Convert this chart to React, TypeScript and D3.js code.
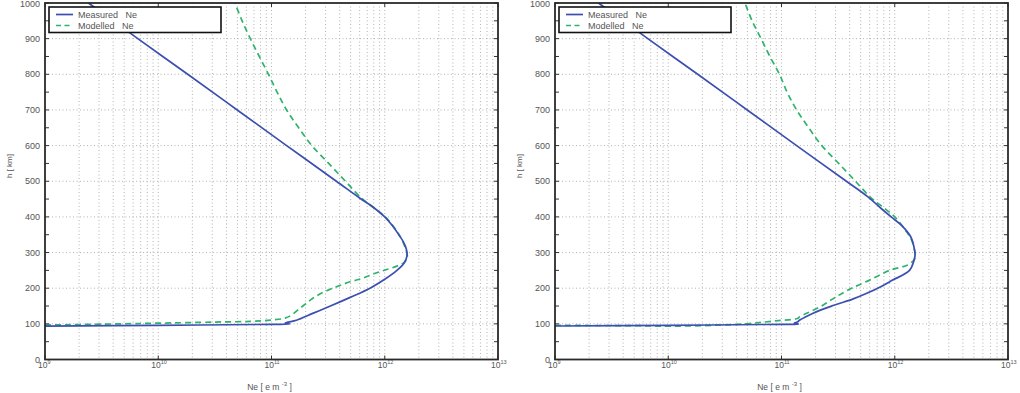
import React from "react";
import * as d3 from "d3";

// axis ticks
const heightTicks = [0, 100, 200, 300, 400, 500, 600, 700, 800, 900, 1000];
const decadeTicks = [1e9, 1e10, 1e11, 1e12, 1e13];
const decadeExponents = ["9", "10", "11", "12", "13"];
const seriesNames = ["Measured   Ne", "Modelled   Ne"];

// left profile: measured
const leftMeasuredH = [
  93.8, 96, 98.6, 99.6, 102.5, 105, 110, 130, 150, 175, 200, 225, 250, 270, 290,
  310, 330, 350, 375, 400, 430, 453, 500, 600, 700, 800, 900, 1000,
];
const leftMeasuredNe = [
  1e9, 1e10, 1e11, 1.45e11, 1.32e11, 1.41e11, 1.66e11, 2.34e11, 3.31e11, 5.01e11,
  7.41e11, 1.0e12, 1.28e12, 1.48e12, 1.57e12, 1.55e12, 1.46e12, 1.33e12, 1.17e12,
  1.0e12, 7.7e11, 6.0e11, 3.74e11, 1.36e11, 4.98e10, 1.82e10, 6.6e9, 2.42e9,
];

// left profile: modelled
const leftModelledH = [
  96.6, 101, 105, 107, 110.6, 116, 125, 141, 156, 171, 185, 197, 206, 218, 227, 240,
  251, 262, 272, 285, 305, 335, 360, 400, 427, 453, 500, 550, 600, 650, 700, 750,
  800, 850, 900, 950, 1000,
];
const leftModelledNe = [
  1e9, 6.9e9, 3.2e10, 6.5e10, 9.8e10, 1.32e11, 1.51e11, 1.74e11, 2.0e11, 2.3e11,
  2.72e11, 3.3e11, 3.9e11, 4.94e11, 6.27e11, 7.94e11, 1.01e12, 1.28e12, 1.48e12,
  1.58e12, 1.55e12, 1.42e12, 1.28e12, 1.01e12, 7.9e11, 6.2e11, 4.5e11, 3.2e11,
  2.27e11, 1.74e11, 1.36e11, 1.12e11, 9.4e10, 7.8e10, 6.5e10, 5.5e10, 4.76e10,
];

// right profile: measured
const rightMeasuredH = [
  94, 96, 98.6, 99.5, 102.5, 105, 110.6, 130, 152, 170, 185, 205, 222, 250, 278,
  292, 315, 345, 375, 400, 425, 456, 500, 600, 700, 800, 900, 1000,
];
const rightMeasuredNe = [
  1e9, 1e10, 1e11, 1.41e11, 1.3e11, 1.38e11, 1.45e11, 1.9e11, 2.9e11, 4.3e11,
  5.6e11, 7.6e11, 9.5e11, 1.35e12, 1.48e12, 1.51e12, 1.48e12, 1.38e12, 1.16e12,
  9.3e11, 7.5e11, 5.8e11, 3.74e11, 1.36e11, 4.98e10, 1.82e10, 6.6e9, 2.42e9,
];

// right profile: modelled
const rightModelledH = [
  95.5, 95, 93.5, 96, 101, 108.7, 115, 120, 148, 175, 199, 222.7, 250.7, 265, 280,
  290, 305, 335, 360, 400, 427, 453, 500, 550, 600, 650, 700, 750, 800, 850, 900,
  950, 1000,
];
const rightModelledNe = [
  1e9, 5e9, 1.05e10, 2.5e10, 5.2e10, 9e10, 1.38e11, 1.45e11, 2.2e11, 3.0e11, 4.1e11,
  6.0e11, 9.1e11, 1.3e12, 1.48e12, 1.52e12, 1.5e12, 1.41e12, 1.26e12, 1.0e12,
  7.9e11, 6.2e11, 4.5e11, 3.2e11, 2.27e11, 1.74e11, 1.36e11, 1.12e11, 9.6e10,
  7.9e10, 6.6e10, 5.5e10, 4.76e10,
];

const blue = "#3c4fb0";
const green = "#2fb36c";
const textColor = "#555";
const font = "'Liberation Sans', Arial, sans-serif";

const plotW = 453;
const plotH = 356.5;
const plotTop = 3;

const zip = (ne: number[], h: number[]) => ne.map((v, i) => [v, h[i]] as [number, number]);

function Panel({ left, measured, modelled }: { left: number; measured: [number, number][]; modelled: [number, number][] }) {
  const x = d3.scaleLog().domain([1e9, 1e13]).range([0, plotW]);
  const y = d3.scaleLinear().domain([0, 1000]).range([plotH, 0]);
  const line = d3
    .line<[number, number]>()
    .x((d) => x(d[0]))
    .y((d) => y(d[1]))
    .curve(d3.curveCatmullRom.alpha(0.5));

  const minorX = x.ticks().filter((t) => t > 1e9 && t < 1e13);
  const hGrid = heightTicks.filter((t) => t > 0 && t < 1000);
  const hMarks = d3.range(0, 1001, 50);

  return (
    <g transform={`translate(${left},${plotTop})`} fontFamily={font}>
      {/* dotted grid */}
      <g stroke="#a0a0a0" strokeWidth={0.8} strokeDasharray="1 2.5">
        {minorX.map((t) => (
          <line key={"v" + t} x1={x(t)} x2={x(t)} y1={0} y2={plotH} />
        ))}
        {hGrid.map((t) => (
          <line key={"h" + t} x1={0} x2={plotW} y1={y(t)} y2={y(t)} />
        ))}
      </g>

      {/* profiles */}
      <path d={line(modelled) ?? ""} fill="none" stroke={green} strokeWidth={1.7} strokeDasharray="6 4" />
      <path d={line(measured) ?? ""} fill="none" stroke={blue} strokeWidth={1.7} />

      {/* frame and inward ticks */}
      <g stroke="#333" strokeWidth={1}>
        {decadeTicks.map((t) => (
          <g key={"xt" + t}>
            <line x1={x(t)} x2={x(t)} y1={plotH} y2={plotH - 4} />
            <line x1={x(t)} x2={x(t)} y1={0} y2={4} />
          </g>
        ))}
        {hMarks.map((t) => (
          <g key={"yt" + t}>
            <line x1={0} x2={4} y1={y(t)} y2={y(t)} />
            <line x1={plotW} x2={plotW - 4} y1={y(t)} y2={y(t)} />
          </g>
        ))}
      </g>
      <rect x={0} y={0} width={plotW} height={plotH} fill="none" stroke="#2a2a2a" strokeWidth={1.8} />

      {/* tick labels */}
      {heightTicks.map((t) => (
        <text key={"yl" + t} x={-5} y={Math.max(y(t) + 3, 4)} textAnchor="end" fontSize={9} fill={textColor}>
          {t}
        </text>
      ))}
      {decadeTicks.map((t, i) => (
        <text key={"xl" + t} x={x(t) - 7} y={plotH + 8} fontSize={8.5} fill={textColor}>
          10
          <tspan dy={-4} fontSize={5.5}>
            {decadeExponents[i]}
          </tspan>
        </text>
      ))}

      {/* axis titles */}
      <text
        transform={`translate(${-33},${163}) rotate(-90)`}
        textAnchor="middle"
        fontSize={8}
        fill={textColor}
        style={{ whiteSpace: "pre" }}
      >
        h [ km]
      </text>
      <text x={plotW / 2 - 2} y={plotH + 30} textAnchor="middle" fontSize={8.5} fill={textColor} style={{ whiteSpace: "pre" }}>
        {"Ne [ e m "}
        <tspan dy={-4} fontSize={6}>
          -3
        </tspan>
        <tspan dy={4}>{" ]"}</tspan>
      </text>

      {/* legend */}
      <g transform="translate(4,4)">
        <rect x={0} y={0} width={172} height={25.5} fill="#fff" stroke="#111" strokeWidth={1.6} />
        <line x1={7} x2={24} y1={7.5} y2={7.5} stroke={blue} strokeWidth={1.7} />
        <line x1={7} x2={24} y1={18.5} y2={18.5} stroke={green} strokeWidth={1.7} strokeDasharray="5 3.5" />
        {seriesNames.map((n, i) => (
          <text key={n} x={29} y={10.8 + i * 11} fontSize={9} fill={textColor} style={{ whiteSpace: "pre" }}>
            {n}
          </text>
        ))}
      </g>
    </g>
  );
}

export default function App() {
  return (
    <svg width={1020} height={393} style={{ position: "absolute", left: 0, top: 0, background: "#fff" }}>
      <Panel left={45} measured={zip(leftMeasuredNe, leftMeasuredH)} modelled={zip(leftModelledNe, leftModelledH)} />
      <Panel left={555} measured={zip(rightMeasuredNe, rightMeasuredH)} modelled={zip(rightModelledNe, rightModelledH)} />
    </svg>
  );
}
